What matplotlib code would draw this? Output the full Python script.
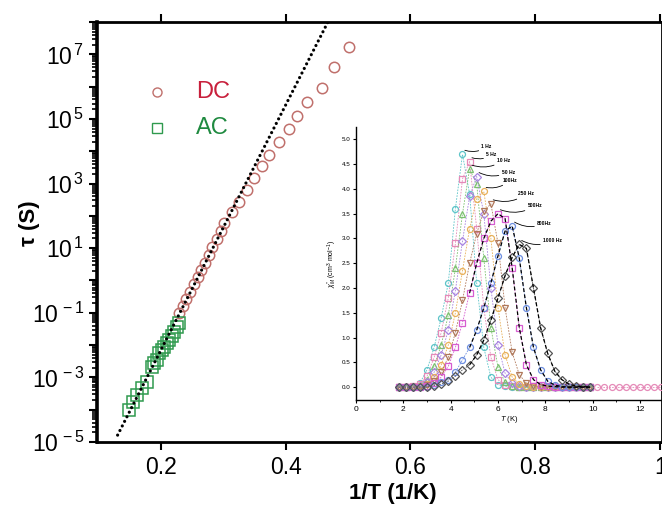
import numpy as np
import matplotlib
matplotlib.use("Agg")
import matplotlib.pyplot as plt
from matplotlib.ticker import LogLocator, FuncFormatter, MultipleLocator, NullFormatter

plt.rcParams['font.family'] = ['Liberation Sans', 'DejaVu Sans']
plt.rcParams['mathtext.fontset'] = 'custom'
plt.rcParams['mathtext.rm'] = 'Liberation Sans'
plt.rcParams['mathtext.it'] = 'Liberation Sans:italic'
plt.rcParams['mathtext.bf'] = 'Liberation Sans:bold'

# ---------------- main panel data ----------------
dc_inv_T = [0.229, 0.235, 0.241, 0.247, 0.253, 0.259, 0.265, 0.271, 0.277, 0.283,
            0.290, 0.296, 0.302, 0.314, 0.326, 0.338, 0.350, 0.363, 0.374, 0.389,
            0.405, 0.419, 0.435, 0.459, 0.478, 0.502]
dc_log_tau = [-1.00, -0.80, -0.58, -0.36, -0.12, 0.10, 0.33, 0.55, 0.80, 1.03,
              1.28, 1.52, 1.78, 2.12, 2.43, 2.80, 3.17, 3.54, 3.88, 4.28,
              4.69, 5.09, 5.52, 5.96, 6.61, 7.23]

ac_inv_T = [0.150, 0.155, 0.162, 0.170, 0.178, 0.186, 0.190, 0.194, 0.198, 0.202,
            0.206, 0.210, 0.214, 0.218, 0.222, 0.226, 0.230]
ac_log_tau = [-4.01, -3.76, -3.55, -3.33, -3.15, -2.68, -2.55, -2.46, -2.25, -2.15,
              -2.06, -1.95, -1.85, -1.72, -1.60, -1.45, -1.32]

# Arrhenius fit: tau = tau0 * exp(Ueff / T)
fit_tau0 = 1.74e-10
fit_Ueff = 87.4
fit_range = (0.131, 0.47)

legend_labels = ["DC", "AC"]

# ---------------- inset data (chi'' vs T) ----------------
T_grid = [1.8, 2.1, 2.4, 2.7, 3.0, 3.3, 3.6, 3.9, 4.2, 4.5, 4.8, 5.1, 5.4, 5.7,
          6.0, 6.3, 6.6, 6.9, 7.2, 7.5, 7.8, 8.1, 8.4, 8.7, 9.0, 9.3, 9.6, 9.9]
chi_1 = [0.00, 0.01, 0.03, 0.08, 0.35, 0.80, 1.40, 2.10, 3.60, 4.70, 3.90, 2.10, 0.80, 0.20,
         0.05, 0.02, 0.01, 0.00, 0.00, 0.00, 0.00, 0.00, 0.00, 0.00, 0.00, 0.00, 0.00, 0.00]
chi_2 = [0.00, 0.01, 0.02, 0.06, 0.22, 0.60, 1.10, 1.80, 2.90, 4.20, 4.55, 3.20, 1.60, 0.60,
         0.15, 0.04, 0.02, 0.01, 0.00, 0.00, 0.00, 0.00, 0.00, 0.00, 0.00, 0.00, 0.00, 0.00]
chi_3 = [0.00, 0.00, 0.02, 0.05, 0.15, 0.42, 0.85, 1.45, 2.40, 3.50, 4.40, 4.10, 2.60, 1.20,
         0.40, 0.10, 0.03, 0.01, 0.00, 0.00, 0.00, 0.00, 0.00, 0.00, 0.00, 0.00, 0.00, 0.00]
chi_4 = [0.00, 0.00, 0.01, 0.03, 0.10, 0.30, 0.65, 1.15, 1.95, 2.95, 3.85, 4.25, 3.50, 2.00,
         0.85, 0.28, 0.08, 0.02, 0.01, 0.00, 0.00, 0.00, 0.00, 0.00, 0.00, 0.00, 0.00, 0.00]
chi_5 = [0.00, 0.00, 0.00, 0.02, 0.07, 0.20, 0.45, 0.85, 1.50, 2.35, 3.20, 3.80, 3.95, 3.00,
         1.60, 0.65, 0.20, 0.06, 0.02, 0.01, 0.00, 0.00, 0.00, 0.00, 0.00, 0.00, 0.00, 0.00]
chi_6 = [0.00, 0.00, 0.00, 0.01, 0.04, 0.13, 0.30, 0.60, 1.10, 1.75, 2.50, 3.10, 3.55, 3.70,
         2.90, 1.60, 0.70, 0.25, 0.08, 0.03, 0.01, 0.00, 0.00, 0.00, 0.00, 0.00, 0.00, 0.00]
chi_7 = [0.00, 0.00, 0.00, 0.00, 0.02, 0.08, 0.20, 0.42, 0.80, 1.30, 1.90, 2.50, 3.00, 3.35,
         3.50, 3.40, 2.40, 1.20, 0.45, 0.15, 0.05, 0.02, 0.01, 0.00, 0.00, 0.00, 0.00, 0.00]
chi_8 = [0.00, 0.00, 0.00, 0.00, 0.01, 0.05, 0.10, 0.15, 0.30, 0.55, 0.80, 1.15, 1.60, 2.10,
         2.65, 3.15, 3.25, 2.60, 1.60, 0.80, 0.35, 0.12, 0.04, 0.01, 0.00, 0.00, 0.00, 0.00]
chi_9 = [0.00, 0.00, 0.00, 0.00, 0.00, 0.03, 0.06, 0.12, 0.22, 0.35, 0.45, 0.65, 0.95, 1.35,
         1.80, 2.25, 2.62, 2.88, 2.80, 2.00, 1.20, 0.68, 0.32, 0.15, 0.06, 0.02, 0.01, 0.00]
T_tail = [10.2, 10.5, 10.8, 11.1, 11.4, 11.7, 12.0, 12.3, 12.6, 12.9]
chi_tail = [0.00, 0.00, 0.00, 0.00, 0.00, 0.00, 0.00, 0.00, 0.00, 0.00]

freq_labels = ["1 Hz", "5 Hz", "10 Hz", "50 Hz", "100Hz", "250 Hz", "500Hz", "800Hz", "1000 Hz"]

# ---------------- figure ----------------
W, H = 662, 512
fig = plt.figure(figsize=(W / 100, H / 100), dpi=100)
ax = fig.add_axes([97 / W, 70 / H, 1 - 97 / W, 420 / H])

ax.set_yscale('log')
ax.set_ylim(1e-5, 1e8)
ax.set_xlim(0.098, 1.003)

dc_tau = [10 ** v for v in dc_log_tau]
ac_tau = [10 ** v for v in ac_log_tau]
ax.plot(dc_inv_T, dc_tau, linestyle='none', marker='o', ms=7.5, mfc='none',
        mec='#c0706c', mew=1.1, zorder=3)
ax.plot(ac_inv_T, ac_tau, linestyle='none', marker='s', ms=8, mfc='none',
        mec='#2f9a4e', mew=1.1, zorder=3)

xf = np.linspace(fit_range[0], fit_range[1], 300)
ax.plot(xf, fit_tau0 * np.exp(fit_Ueff * xf), color='black', lw=2.3,
        linestyle=(0, (0.01, 1.6)), dash_capstyle='round', zorder=4)

# legend (manual)
ax.plot([0.106], [0.833], 'o', transform=ax.transAxes, ms=6.5, mfc='none',
        mec='#c0706c', mew=1.0, clip_on=False)
ax.plot([0.106], [0.748], 's', transform=ax.transAxes, ms=6.5, mfc='none',
        mec='#2f9a4e', mew=1.0, clip_on=False)
ax.text(0.175, 0.833, legend_labels[0], transform=ax.transAxes, color='#c8203c',
        fontsize=17, va='center', ha='left')
ax.text(0.175, 0.748, legend_labels[1], transform=ax.transAxes, color='#1f8a40',
        fontsize=17, va='center', ha='left')

# axes styling
for s in ['top', 'bottom', 'right']:
    ax.spines[s].set_linewidth(2.0)
ax.spines['left'].set_linewidth(2.6)

ax.xaxis.set_major_locator(MultipleLocator(0.2))
ax.xaxis.set_major_formatter(FuncFormatter(lambda v, p: ('%g' % round(v, 2))))
ax.tick_params(axis='x', which='major', direction='out', length=6, width=1.5,
               top=True, labeltop=False, labelsize=16.5, pad=4)
ax.yaxis.set_major_locator(LogLocator(base=10, numticks=30))
ax.yaxis.set_minor_locator(LogLocator(base=10, subs=np.arange(2, 10), numticks=30))
ax.yaxis.set_minor_formatter(NullFormatter())

def yfmt(v, p):
    e = int(round(np.log10(v)))
    if e % 2 == 0:
        return ''
    return r'10$^{\,%d}$' % e

ax.yaxis.set_major_formatter(FuncFormatter(yfmt))
ax.tick_params(axis='y', which='major', direction='out', length=6, width=1.5,
               labelsize=16.5, pad=3)
ax.tick_params(axis='y', which='minor', direction='out', length=3.5, width=1.2)

ax.set_xlabel('1/T (1/K)', fontsize=16, fontweight='bold')
ax.xaxis.set_label_coords(0.524, -0.098)
ax.set_ylabel('τ (S)', fontsize=16, fontweight='bold')
ax.yaxis.set_label_coords(-0.10, 0.52)

# ---------------- inset ----------------
ins = fig.add_axes([356 / W, 112 / H, 1 - 356 / W, 273 / H])
ins.set_facecolor('none')
ins.set_xlim(0, 12.93)
ins.set_ylim(-0.26, 5.25)

curves = [chi_1, chi_2, chi_3, chi_4, chi_5, chi_6, chi_7, chi_8, chi_9]
colors = ['#5cc4c8', '#e58ab8', '#7cc070', '#a884e0', '#e8b05a', '#b0785a',
          '#d65cd0', '#6c8ee0', '#555555']
markers = ['o', 's', '^', 'D', 'o', 'v', 's', 'o', 'D']
for c, col, mk in zip(curves, colors, markers):
    ins.plot(T_grid, c, linestyle=(0, (2, 1.5)), lw=0.6, color=col, marker=mk,
             ms=4.3, mfc='none', mec=col, mew=0.9, zorder=2)
ins.plot(T_tail, chi_tail, linestyle=(0, (2, 1.5)), lw=0.6, color='#e58ab8',
         marker='o', ms=4.3, mfc='none', mec='#e58ab8', mew=0.9, zorder=2)

# dashed fits on the high-frequency curves
for c in [chi_7, chi_8, chi_9]:
    ins.plot(T_grid[10:], c[10:], color='black', lw=0.9, linestyle=(0, (3, 2)), zorder=3)

# frequency labels with leaders
peak_idx = [int(np.argmax(c)) for c in curves]
label_pos = [(5.3, 4.85), (5.5, 4.69), (5.95, 4.58), (6.15, 4.34), (6.2, 4.18),
             (6.85, 3.9), (7.25, 3.66), (7.65, 3.3), (7.9, 2.95)]
for c, i, lab, pos in zip(curves, peak_idx, freq_labels, label_pos):
    ins.annotate(lab, xy=(T_grid[i] + 0.1, c[i] + 0.08), xytext=pos,
                 fontsize=3.6, fontweight='bold', ha='left', va='center',
                 arrowprops=dict(arrowstyle='-', lw=0.6, color='black',
                                 connectionstyle='arc3,rad=-0.25', shrinkA=0, shrinkB=0))

for s in ['top', 'right']:
    ins.spines[s].set_visible(False)
ins.spines['left'].set_linewidth(1.0)
ins.spines['bottom'].set_linewidth(1.0)
ins.xaxis.set_major_locator(MultipleLocator(2))
ins.xaxis.set_minor_locator(MultipleLocator(1))
ins.yaxis.set_major_locator(MultipleLocator(0.5))
ins.yaxis.set_major_formatter(FuncFormatter(lambda v, p: '%.1f' % v))
ins.tick_params(axis='both', which='major', direction='out', length=2.5, width=0.8,
                pad=1.5)
ins.tick_params(axis='x', which='major', labelsize=6)
ins.tick_params(axis='y', which='major', labelsize=4.5)
ins.tick_params(axis='x', which='minor', direction='out', length=1.5, width=0.6)
ins.set_xlabel(r'$T$ (K)', fontsize=5.5, labelpad=1)
ins.set_ylabel(r"$\chi_M''$ (cm$^3$ mol$^{-1}$)", fontsize=5, labelpad=2)

fig.savefig('out.png', dpi=100)
